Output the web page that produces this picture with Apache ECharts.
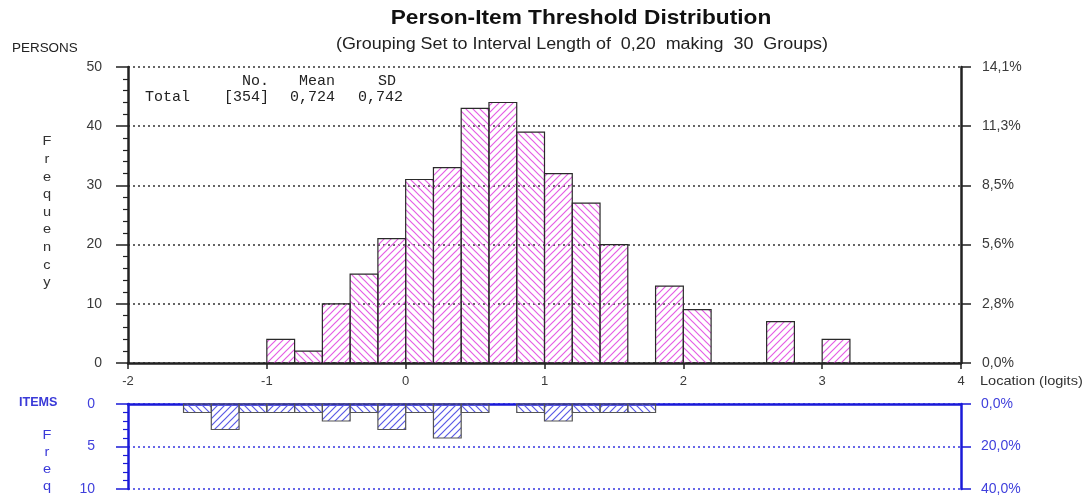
<!DOCTYPE html>
<html><head><meta charset="utf-8">
<script src="https://cdn.jsdelivr.net/npm/echarts@6/dist/echarts.min.js"></script>
<style>html,body{margin:0;padding:0;background:#fff}#c{width:1091px;height:497px}</style>
</head><body><div id="c"></div>
<script>
// ---- data ----
const binWidth = 0.2;
const xMin = -2, xMax = 4;
const personBinStart = [-1.0,-0.8,-0.6,-0.4,-0.2,0.0,0.2,0.4,0.6,0.8,1.0,1.2,1.4,1.8,2.0,2.6,3.0];
const personCounts   = [4,2,10,15,21,31,33,43,44,39,32,27,20,13,9,7,4];
const itemBinStart   = [-1.6,-1.4,-1.2,-1.0,-0.8,-0.6,-0.4,-0.2,0.0,0.2,0.4,0.8,1.0,1.2,1.4,1.6];
const itemCounts     = [1,3,1,1,1,2,1,3,1,4,1,1,2,1,1,1];
const personTotal = 354, personMean = '0,724', personSD = '0,742';
const itemTotal = 25;
const personMax = 50, personStep = 10;
const itemMax = 10, itemStep = 5;

// ---- patterns ----
function hatch(color, dir){
  const s = 7, c = document.createElement('canvas');
  c.width = s; c.height = s;
  const g = c.getContext('2d');
  g.strokeStyle = color; g.lineWidth = 1.2; g.beginPath();
  if (dir === '/') {
    g.moveTo(0,s); g.lineTo(s,0);
    g.moveTo(-1,1); g.lineTo(1,-1);
    g.moveTo(s-1,s+1); g.lineTo(s+1,s-1);
  } else {
    g.moveTo(0,0); g.lineTo(s,s);
    g.moveTo(s-1,-1); g.lineTo(s+1,1);
    g.moveTo(-1,s-1); g.lineTo(1,s+1);
  }
  g.stroke();
  return {image: c, repeat: 'repeat'};
}
const patP = {'/': hatch('#e55ee5','/'), '\\': hatch('#e55ee5','\\')};
const patI = {'/': hatch('#5a5ae6','/'), '\\': hatch('#5a5ae6','\\')};

function mk(starts, counts){
  return starts.map((s,i)=>{
    const idx = Math.round((s - xMin)/binWidth);
    return [s, +(s+binWidth).toFixed(2), counts[i], idx % 2];
  });
}
function renderer(pats, stroke){
  return function(params, api){
    const x0 = api.value(0), x1 = api.value(1), v = api.value(2), d = api.value(3);
    const p0 = api.coord([x0, 0]), p1 = api.coord([x1, v]);
    return {type:'rect',
      shape:{x:p0[0], y:Math.min(p0[1],p1[1]), width:p1[0]-p0[0], height:Math.abs(p1[1]-p0[1])},
      style:{fill: d ? pats['/'] : pats['\\'], stroke: stroke, lineWidth: 1.2}};
  };
}
const pct = (v, tot) => (v/tot*100).toFixed(1).replace('.', ',') + '%';

const chart = echarts.init(document.getElementById('c'));
const dark = '#222', lab = '#3a3a3a', bl = '#1a1ad8', blLab = '#4040dc';
const dotted = [2,3];
const SX = 1.12;

chart.setOption({
  animation:false,
  grid:[
    {left:128, top:67, width:833, height:296},
    {left:128, top:404, width:833, height:85}
  ],
  xAxis:[
    {type:'value', gridIndex:0, min:xMin, max:xMax, interval:1,
     axisLine:{show:true, onZero:false, lineStyle:{color:dark, width:2.5}},
     axisTick:{show:true, length:6, lineStyle:{color:dark, width:1.5}},
     axisLabel:{color:lab, fontSize:13, fontFamily:'Liberation Sans', margin:12,
       formatter: v => String(v)},
     splitLine:{show:false}},
    {type:'value', gridIndex:1, min:xMin, max:xMax, interval:1, position:'top',
     axisLine:{show:true, onZero:false, lineStyle:{color:bl, width:2.5}},
     axisTick:{show:false}, axisLabel:{show:false}, splitLine:{show:false}}
  ],
  yAxis:[
    {type:'value', gridIndex:0, min:0, max:personMax, interval:personStep, position:'left',
     axisLine:{show:true, onZero:false, lineStyle:{color:dark, width:2.5}},
     axisTick:{show:true, length:12, lineStyle:{color:dark, width:1.5}},
     minorTick:{show:true, splitNumber:5, length:5, lineStyle:{color:dark, width:1.2}},
     axisLabel:{color:lab, fontSize:14, fontFamily:'Liberation Sans', margin:26},
     splitLine:{show:true, lineStyle:{color:'#333', type:dotted, width:1.5}}},
    {type:'value', gridIndex:0, min:0, max:personMax, interval:personStep, position:'right',
     axisLine:{show:true, onZero:false, lineStyle:{color:dark, width:2.5}},
     axisTick:{show:true, length:10, lineStyle:{color:dark, width:1.5}},
     axisLabel:{color:lab, fontSize:14, fontFamily:'Liberation Sans', margin:21,
       formatter: v => pct(v, personTotal)},
     splitLine:{show:false}},
    {type:'value', gridIndex:1, min:0, max:itemMax, interval:itemStep, inverse:true, position:'left',
     axisLine:{show:true, onZero:false, lineStyle:{color:bl, width:2.5}},
     axisTick:{show:true, length:12, lineStyle:{color:bl, width:1.5}},
     minorTick:{show:true, splitNumber:5, length:5, lineStyle:{color:bl, width:1.2}},
     axisLabel:{color:blLab, fontSize:14, fontFamily:'Liberation Sans', margin:33},
     splitLine:{show:true, lineStyle:{color:'#3434e0', type:dotted, width:1.5}}},
    {type:'value', gridIndex:1, min:0, max:itemMax, interval:itemStep, inverse:true, position:'right',
     axisLine:{show:true, onZero:false, lineStyle:{color:bl, width:2.5}},
     axisTick:{show:true, length:10, lineStyle:{color:bl, width:1.5}},
     axisLabel:{color:blLab, fontSize:14, fontFamily:'Liberation Sans', margin:20,
       formatter: v => pct(v, itemTotal)},
     splitLine:{show:false}}
  ],
  series:[
    {type:'custom', xAxisIndex:0, yAxisIndex:0, data: mk(personBinStart, personCounts),
     encode:{x:[0,1], y:2}, renderItem: renderer(patP, '#2a2a2a'), z:1},
    {type:'custom', xAxisIndex:1, yAxisIndex:2, data: mk(itemBinStart, itemCounts),
     encode:{x:[0,1], y:2}, renderItem: renderer(patI, '#555'), z:1}
  ],
  graphic:[
    {type:'text', z:10, x:581, y:18, scaleX:1.08, style:{text:'Person-Item Threshold Distribution',
      font:'bold 21px "Liberation Sans"', fill:'#111', textAlign:'center', textVerticalAlign:'middle'}},
    {type:'text', z:10, x:582, y:45, scaleX:1.12, style:{text:'(Grouping Set to Interval Length of  0,20  making  30  Groups)',
      font:'16px "Liberation Sans"', fill:'#222', textAlign:'center', textVerticalAlign:'middle'}},
    {type:'text', z:10, x:12, y:49, scaleX:SX, style:{text:'PERSONS', font:'12px "Liberation Sans"', fill:'#222',
      textVerticalAlign:'middle'}},
    {type:'text', z:10, x:47, y:133, scaleX:SX, style:{text:'F\nr\ne\nq\nu\ne\nn\nc\ny', font:'13px "Liberation Sans"',
      lineHeight:17.6, fill:'#333', textAlign:'center'}},
    {type:'text', z:10, x:19, y:403, scaleX:1.05, style:{text:'ITEMS', font:'bold 12px "Liberation Sans"', fill:'#3a3ad8',
      textVerticalAlign:'middle'}},
    {type:'text', z:10, x:47, y:427, scaleX:SX, style:{text:'F\nr\ne\nq', font:'13px "Liberation Sans"',
      lineHeight:17, fill:'#3a3ad8', textAlign:'center'}},
    {type:'text', z:10, x:980, y:381, scaleX:SX, style:{text:'Location (logits)', font:'13px "Liberation Sans"', fill:'#333',
      textVerticalAlign:'middle'}},
    {type:'text', z:10, x:242, y:81, style:{text:'No.', font:'15px "Liberation Mono"', fill:'#222', textVerticalAlign:'middle'}},
    {type:'text', z:10, x:299, y:81, style:{text:'Mean', font:'15px "Liberation Mono"', fill:'#222', textVerticalAlign:'middle'}},
    {type:'text', z:10, x:378, y:81, style:{text:'SD', font:'15px "Liberation Mono"', fill:'#222', textVerticalAlign:'middle'}},
    {type:'text', z:10, x:145, y:97, style:{text:'Total', font:'15px "Liberation Mono"', fill:'#222', textVerticalAlign:'middle'}},
    {type:'text', z:10, x:224, y:97, style:{text:'[' + personTotal + ']', font:'15px "Liberation Mono"', fill:'#222', textVerticalAlign:'middle'}},
    {type:'text', z:10, x:290, y:97, style:{text:personMean, font:'15px "Liberation Mono"', fill:'#222', textVerticalAlign:'middle'}},
    {type:'text', z:10, x:358, y:97, style:{text:personSD, font:'15px "Liberation Mono"', fill:'#222', textVerticalAlign:'middle'}}
  ]
});
</script></body></html>
